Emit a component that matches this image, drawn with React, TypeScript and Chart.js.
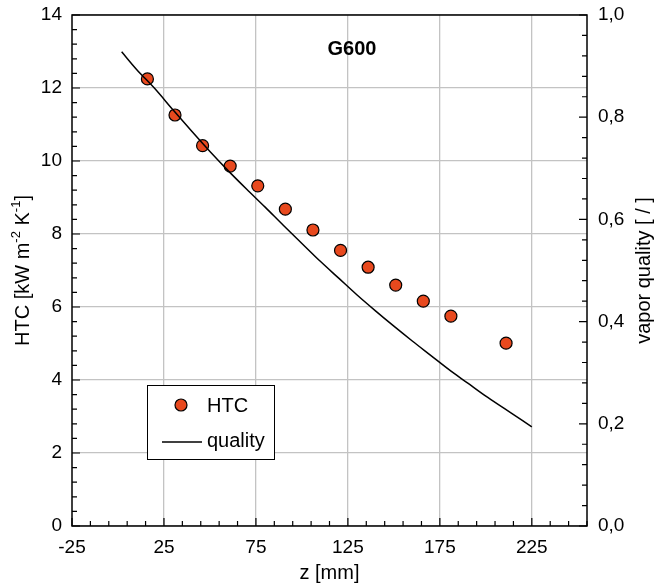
import React, { useEffect, useRef } from 'react';
import { Chart, registerables } from 'chart.js';

Chart.register(...registerables);

// ---- data ----
const zPositions = [16, 31, 46, 61, 76, 91, 106, 121, 136, 151, 166, 181, 211];
const htcValues = [12.25, 11.26, 10.42, 9.86, 9.32, 8.68, 8.11, 7.55, 7.09, 6.6, 6.16, 5.75, 5.01];

const qualityZ = [2, 10, 20, 30, 40, 50, 60, 70, 80, 90, 100, 110, 120, 130, 140, 150, 160, 170, 180, 190, 200, 210, 220, 225];
const qualityValues = [0.928, 0.894, 0.856, 0.814, 0.773, 0.733, 0.695, 0.659, 0.624, 0.588, 0.553, 0.518, 0.485, 0.452, 0.421, 0.391, 0.362, 0.334, 0.306, 0.28, 0.254, 0.23, 0.206, 0.194];

const xTickValues = [-25, 25, 75, 125, 175, 225];
const yTickValues = [0, 2, 4, 6, 8, 10, 12, 14];
const y2TickValues = [0, 0.2, 0.4, 0.6, 0.8, 1.0];

const chartTitle = 'G600';
const xTitle = 'z [mm]';
const y2Title = 'vapor quality [ / ]';
const legendLabels = ['HTC', 'quality'];

const FONT = '"Liberation Sans", Arial, sans-serif';
const POINT_COLOR = '#E8491E';
const GRID_COLOR = '#c3c3c3';
const CLEAR = 'rgba(0,0,0,0)';

const decorPlugin = {
  id: 'decor',
  afterDraw(chart: any) {
    const ctx = chart.ctx as CanvasRenderingContext2D;
    const { left, right, top, bottom } = chart.chartArea;
    const xs = chart.scales.x;
    const ys = chart.scales.y;
    const y2 = chart.scales.y2;
    ctx.save();
    ctx.strokeStyle = '#000';
    ctx.lineWidth = 1.2;
    ctx.beginPath();
    // bottom axis ticks (inward)
    for (let i = 0; i <= 28; i++) {
      const v = -25 + i * 10;
      const px = xs.getPixelForValue(v);
      const len = i % 5 === 0 ? 8 : 5;
      ctx.moveTo(px, bottom);
      ctx.lineTo(px, bottom - len);
    }
    // left axis ticks
    for (let i = 0; i <= 35; i++) {
      const v = i * 0.4;
      const py = ys.getPixelForValue(v);
      const len = i % 5 === 0 ? 8 : 5;
      ctx.moveTo(left, py);
      ctx.lineTo(left + len, py);
    }
    // right axis ticks
    for (let i = 0; i <= 25; i++) {
      const v = i * 0.04;
      const py = y2.getPixelForValue(v);
      const len = i % 5 === 0 ? 8 : 5;
      ctx.moveTo(right, py);
      ctx.lineTo(right - len, py);
    }
    ctx.stroke();

    // frame
    ctx.lineWidth = 1.5;
    ctx.strokeRect(left, top, right - left, bottom - top);

    // chart title
    ctx.fillStyle = '#000';
    ctx.font = `bold 20px ${FONT}`;
    ctx.textAlign = 'center';
    ctx.textBaseline = 'middle';
    ctx.fillText(chartTitle, 352, 49);

    // legend
    const lx = 147.5, ly = 385.5, lw = 127, lh = 74;
    ctx.fillStyle = '#fff';
    ctx.fillRect(lx, ly, lw, lh);
    ctx.lineWidth = 1;
    ctx.strokeStyle = '#000';
    ctx.strokeRect(lx, ly, lw, lh);
    ctx.beginPath();
    ctx.arc(181, 405, 6, 0, Math.PI * 2);
    ctx.fillStyle = POINT_COLOR;
    ctx.fill();
    ctx.lineWidth = 1.2;
    ctx.stroke();
    ctx.beginPath();
    ctx.lineWidth = 1.5;
    ctx.moveTo(162, 442);
    ctx.lineTo(202, 442);
    ctx.stroke();
    ctx.fillStyle = '#000';
    ctx.font = `20px ${FONT}`;
    ctx.textAlign = 'left';
    ctx.textBaseline = 'middle';
    ctx.fillText(legendLabels[0], 207, 406);
    ctx.fillText(legendLabels[1], 207, 441);

    // left axis title with superscripts
    const parts = [
      { t: 'HTC [kW m', sup: false },
      { t: '-2', sup: true },
      { t: ' K', sup: false },
      { t: '-1', sup: true },
      { t: ']', sup: false },
    ];
    const bigF = `20px ${FONT}`;
    const smallF = `13px ${FONT}`;
    let total = 0;
    for (const p of parts) {
      ctx.font = p.sup ? smallF : bigF;
      total += ctx.measureText(p.t).width;
    }
    ctx.save();
    ctx.translate(23, (top + bottom) / 2);
    ctx.rotate(-Math.PI / 2);
    let cx = -total / 2;
    ctx.textAlign = 'left';
    ctx.textBaseline = 'middle';
    for (const p of parts) {
      ctx.font = p.sup ? smallF : bigF;
      ctx.fillText(p.t, cx, p.sup ? -7 : 0);
      cx += ctx.measureText(p.t).width;
    }
    ctx.restore();

    // right axis title
    ctx.save();
    ctx.translate(644, (top + bottom) / 2);
    ctx.rotate(-Math.PI / 2);
    ctx.font = `20px ${FONT}`;
    ctx.textAlign = 'center';
    ctx.textBaseline = 'middle';
    ctx.fillText(y2Title, 0, 0);
    ctx.restore();

    ctx.restore();
  },
};

export default function App() {
  const canvasRef = useRef<HTMLCanvasElement | null>(null);

  useEffect(() => {
    if (!canvasRef.current) return;
    Chart.defaults.font.family = FONT;
    Chart.defaults.color = '#000';
    const chart = new Chart(canvasRef.current, {
      type: 'scatter',
      data: {
        datasets: [
          {
            label: legendLabels[1],
            data: qualityZ.map((z, i) => ({ x: z, y: qualityValues[i] })),
            yAxisID: 'y2',
            showLine: true,
            borderColor: '#000',
            borderWidth: 1.5,
            pointRadius: 0,
            cubicInterpolationMode: 'monotone',
            order: 0,
          } as any,
          {
            label: legendLabels[0],
            data: zPositions.map((z, i) => ({ x: z, y: htcValues[i] })),
            yAxisID: 'y',
            pointRadius: 6,
            pointBackgroundColor: POINT_COLOR,
            pointBorderColor: '#000',
            pointBorderWidth: 1.2,
            order: 1,
          } as any,
        ],
      },
      options: {
        responsive: false,
        animation: false,
        devicePixelRatio: 1,
        layout: { padding: { top: 15, left: 0, right: 0, bottom: 0 } },
        plugins: {
          legend: { display: false },
          tooltip: { enabled: false },
          title: { display: false },
        },
        scales: {
          x: {
            type: 'linear',
            position: 'bottom',
            min: -25,
            max: 255,
            afterBuildTicks: (s: any) => {
              s.ticks = xTickValues.map((v) => ({ value: v }));
            },
            afterFit: (s: any) => {
              s.height = 62;
            },
            ticks: {
              padding: 3,
              font: { size: 19 },
              color: '#000',
              callback: (v: any) => String(v),
            },
            grid: {
              color: (c: any) => (c.tick && c.tick.value === -25 ? CLEAR : GRID_COLOR),
              lineWidth: 1.3,
              drawTicks: true,
              tickLength: 7,
              tickColor: CLEAR,
            },
            border: { display: false },
            title: {
              display: true,
              text: xTitle,
              font: { size: 20 },
              color: '#000',
              padding: { top: 0, bottom: 3 },
            },
          },
          y: {
            type: 'linear',
            position: 'left',
            min: 0,
            max: 14,
            afterBuildTicks: (s: any) => {
              s.ticks = yTickValues.map((v) => ({ value: v }));
            },
            afterFit: (s: any) => {
              s.width = 72;
            },
            ticks: {
              padding: 3,
              font: { size: 19 },
              color: '#000',
              callback: (v: any) => String(v),
            },
            grid: {
              color: GRID_COLOR,
              lineWidth: 1.3,
              drawTicks: true,
              tickLength: 7,
              tickColor: CLEAR,
            },
            border: { display: false },
          },
          y2: {
            type: 'linear',
            position: 'right',
            min: 0,
            max: 1,
            afterBuildTicks: (s: any) => {
              s.ticks = y2TickValues.map((v) => ({ value: v }));
            },
            afterFit: (s: any) => {
              s.width = 70;
            },
            ticks: {
              padding: 3,
              font: { size: 19 },
              color: '#000',
              callback: (v: any) => Number(v).toFixed(1).replace('.', ','),
            },
            grid: { drawOnChartArea: false, drawTicks: true, tickLength: 8, tickColor: CLEAR },
            border: { display: false },
          },
        },
      } as any,
      plugins: [decorPlugin],
    });
    return () => chart.destroy();
  }, []);

  return (
    <div style={{ position: 'absolute', left: 0, top: 0, width: 657, height: 588, background: '#fff' }}>
      <canvas ref={canvasRef} width={657} height={588} style={{ display: 'block' }} />
    </div>
  );
}
